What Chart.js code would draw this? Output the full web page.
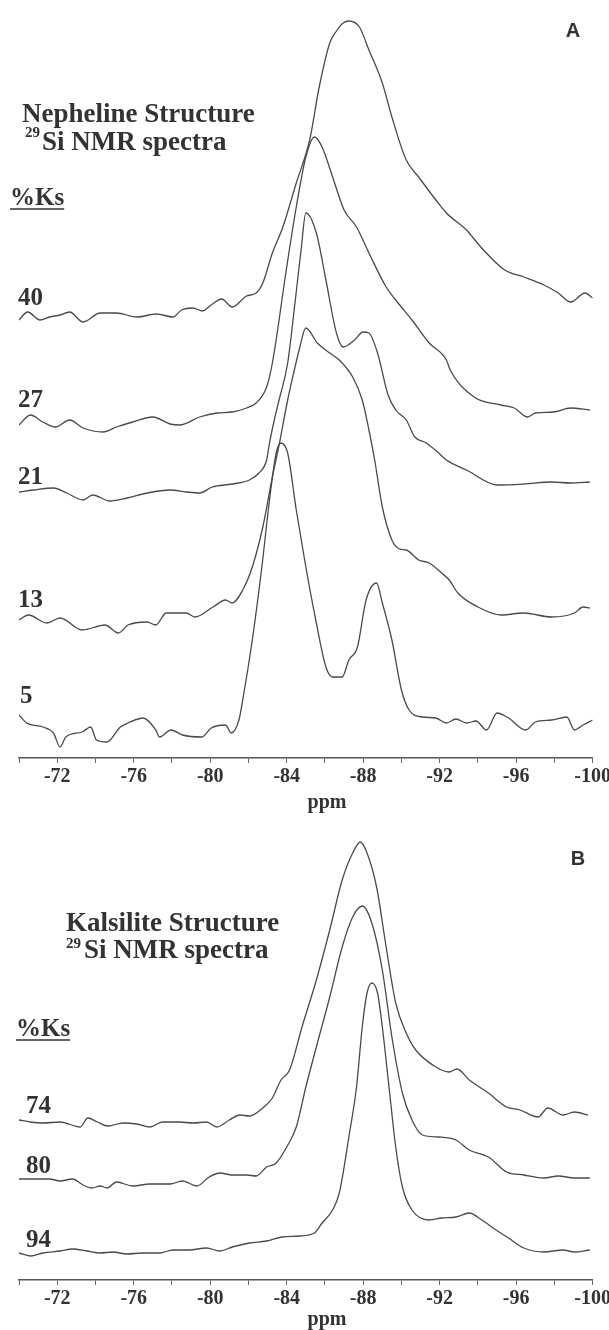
<!DOCTYPE html>
<html>
<head>
<meta charset="utf-8">
<script src="https://cdn.jsdelivr.net/npm/chart.js@4.4.1/dist/chart.umd.min.js"></script>
<style>
  html, body { margin: 0; padding: 0; background: #fff; overflow: hidden; }
  .panel { position: relative; width: 613px; }
  #panelA { height: 820px; }
  #panelB { height: 510px; }
</style>
</head>
<body>
<div class="panel" id="panelA"><canvas id="nepheline"></canvas></div>
<div class="panel" id="panelB"><canvas id="kalsilite"></canvas></div>
<script>
// chemical shift (ppm) vs stacked intensity, one array per composition (%Ks)
const ks40 = [[-70.0,438],[-70.45,446],[-71.1,438],[-71.6,441],[-72.15,443],[-72.65,446],[-73.35,436],[-74.25,445],[-75.1,445],[-76.15,441],[-77.2,444],[-78.05,441],[-78.5,448],[-79.1,450],[-79.6,447],[-80.05,453],[-80.6,459],[-81.15,451],[-81.9,462],[-82.4,465],[-82.75,475],[-83.25,505],[-83.8,531],[-84.5,575],[-85.2,618],[-85.7,671],[-86.25,715],[-86.6,727],[-86.95,735],[-87.25,737],[-87.8,731],[-88.3,708],[-89.0,675],[-89.5,641],[-90.25,598],[-90.9,581],[-91.8,558],[-92.35,545],[-93.4,528],[-94.15,511],[-95.4,488],[-96.4,481],[-97.45,473],[-98.2,465],[-98.85,456],[-99.6,465],[-100.0,460]];
const ks27 = [[-70.0,333],[-70.6,343],[-71.25,336],[-71.9,331],[-72.65,338],[-73.35,330],[-74.4,326],[-75.1,331],[-75.95,336],[-77.0,341],[-77.9,334],[-78.4,333],[-79.45,341],[-80.35,345],[-81.15,346],[-81.9,350],[-82.4,355],[-82.95,371],[-83.25,395],[-84.0,491],[-84.5,551],[-85.0,601],[-85.45,621],[-85.85,611],[-86.4,581],[-87.0,548],[-87.65,531],[-88.3,505],[-89.2,471],[-89.7,458],[-90.55,438],[-91.45,415],[-92.35,398],[-92.55,388],[-93.8,361],[-95.2,353],[-95.9,350],[-96.6,341],[-97.0,345],[-97.95,346],[-98.85,350],[-99.85,348]];
const ks21 = [[-70.0,266],[-70.75,268],[-71.8,270],[-72.5,265],[-73.35,258],[-73.85,263],[-74.75,257],[-75.65,260],[-76.7,265],[-77.9,268],[-78.75,266],[-79.45,265],[-80.1,271],[-81.15,274],[-82.05,278],[-82.55,285],[-82.95,298],[-83.1,315],[-83.35,338],[-83.6,358],[-84.05,395],[-84.45,458],[-84.75,508],[-85.0,545],[-85.55,525],[-86.05,478],[-86.6,425],[-86.95,411],[-87.55,418],[-88.0,426],[-88.3,425],[-88.75,405],[-89.3,363],[-89.7,348],[-90.25,338],[-90.7,321],[-91.3,315],[-91.95,305],[-92.35,298],[-93.4,288],[-95.0,273],[-96.4,274],[-97.85,276],[-98.85,275],[-99.85,276]];
const ks13 = [[-70.0,138],[-70.5,143],[-71.45,135],[-72.15,140],[-73.3,128],[-74.5,133],[-75.2,125],[-75.7,133],[-76.7,136],[-77.15,133],[-77.7,145],[-78.75,145],[-79.2,141],[-80.15,151],[-80.8,158],[-81.15,155],[-81.7,168],[-82.2,191],[-82.75,231],[-83.25,281],[-83.6,313],[-84.05,358],[-84.4,388],[-84.65,408],[-85.0,430],[-85.6,415],[-86.25,405],[-86.75,398],[-87.45,381],[-87.95,358],[-88.3,328],[-88.6,298],[-89.0,251],[-89.5,218],[-89.9,209],[-90.25,208],[-90.9,198],[-91.45,195],[-92.1,185],[-92.5,178],[-92.95,165],[-94.0,151],[-95.2,143],[-96.4,145],[-97.85,141],[-99.05,145],[-99.5,151],[-99.85,150]];
const ks5 = [[-70.0,43],[-70.4,35],[-71.25,31],[-71.8,25],[-72.15,11],[-72.45,21],[-73.3,26],[-73.75,31],[-74.05,18],[-74.6,16],[-75.3,31],[-75.7,35],[-76.5,40],[-77.15,28],[-77.35,21],[-77.95,28],[-78.55,23],[-79.55,21],[-80.05,30],[-80.8,33],[-81.1,25],[-81.5,38],[-81.7,58],[-82.2,118],[-82.7,191],[-83.1,258],[-83.45,305],[-83.7,315],[-84.05,305],[-84.5,248],[-85.0,191],[-85.55,135],[-86.05,91],[-86.4,81],[-86.9,81],[-87.25,98],[-87.7,111],[-88.15,158],[-88.7,175],[-89.0,155],[-89.5,118],[-90.0,68],[-90.4,48],[-91.1,41],[-91.8,40],[-92.35,35],[-92.85,39],[-93.4,35],[-93.9,37],[-94.45,28],[-95.0,45],[-95.6,40],[-96.5,28],[-97.0,36],[-97.85,38],[-98.65,41],[-99.05,28],[-99.5,33],[-100.0,38]];

const ks74 = [[-70.0,160],[-70.6,158],[-71.25,157],[-72.15,158],[-73.2,153],[-73.6,162],[-74.1,158],[-74.65,154],[-75.45,157],[-76.15,156],[-76.85,153],[-77.5,158],[-78.4,158],[-79.1,157],[-79.8,158],[-80.35,153],[-81.0,160],[-81.55,165],[-82.05,164],[-82.75,172],[-83.25,182],[-83.7,200],[-84.15,210],[-84.8,253],[-85.55,300],[-86.25,350],[-86.9,400],[-87.45,427],[-87.85,438],[-88.2,427],[-88.7,393],[-89.2,333],[-89.7,277],[-90.25,247],[-90.75,230],[-91.8,213],[-92.5,208],[-92.9,211],[-93.55,200],[-94.55,187],[-95.5,173],[-96.2,170],[-97.15,163],[-97.65,172],[-98.45,165],[-99.05,168],[-99.75,165]];
const ks80 = [[-70.0,101],[-70.75,101],[-71.6,101],[-72.15,99],[-72.8,101],[-73.35,95],[-73.8,92],[-74.25,94],[-74.6,92],[-75.1,98],[-75.95,94],[-76.85,96],[-77.9,96],[-78.55,99],[-79.3,94],[-79.95,103],[-80.5,107],[-81.15,105],[-81.9,105],[-82.4,104],[-82.95,113],[-83.45,117],[-84.0,133],[-84.5,153],[-85.0,193],[-85.55,233],[-86.25,283],[-86.9,333],[-87.45,363],[-87.95,374],[-88.45,357],[-89.0,310],[-89.5,243],[-90.05,187],[-90.55,160],[-91.1,145],[-91.95,143],[-92.85,140],[-93.55,130],[-94.55,123],[-95.5,108],[-96.4,105],[-97.45,102],[-98.2,104],[-99.05,102],[-99.85,102]];
const ks94 = [[-70.0,27],[-70.6,24],[-71.25,27],[-72.15,29],[-72.8,31],[-73.55,29],[-74.25,27],[-74.9,28],[-75.65,26],[-76.45,27],[-77.35,27],[-78.05,30],[-78.9,30],[-79.8,32],[-80.5,29],[-81.15,33],[-82.05,37],[-82.95,39],[-83.75,43],[-84.65,44],[-85.45,47],[-85.85,57],[-86.4,70],[-86.75,87],[-87.25,143],[-87.65,193],[-87.95,253],[-88.2,287],[-88.45,297],[-88.75,287],[-89.0,253],[-89.35,193],[-89.7,133],[-90.05,93],[-90.55,70],[-91.45,60],[-92.1,62],[-92.85,63],[-93.55,67],[-94.2,60],[-94.95,50],[-95.6,42],[-96.4,32],[-97.45,28],[-98.45,30],[-99.05,28],[-99.85,30]];

const INK = '#333333';
const LINE = '#4a4a4a';
const SERIF = '"Liberation Serif", "Times New Roman", serif';

// free text: titles, %Ks labels, panel letters, axis unit
const panelText = {
  id: 'panelText',
  afterDraw(chart, args, opts) {
    const ctx = chart.ctx;
    ctx.save();
    ctx.fillStyle = INK;
    ctx.strokeStyle = INK;
    ctx.textBaseline = 'alphabetic';
    for (const t of opts.items || []) {
      ctx.font = t.font;
      ctx.textAlign = t.align || 'left';
      ctx.fillText(t.text, t.x, t.y);
      if (t.underline) {
        const w = ctx.measureText(t.text).width;
        ctx.lineWidth = 1.6;
        ctx.beginPath();
        ctx.moveTo(t.x, t.y + 4);
        ctx.lineTo(t.x + w, t.y + 4);
        ctx.stroke();
      }
    }
    ctx.restore();
  }
};

function spectrum(points) {
  return {
    data: points.map(([x, y]) => ({ x, y })),
    borderColor: LINE,
    borderWidth: 1.3,
    pointRadius: 0,
    cubicInterpolationMode: 'monotone',
    fill: false
  };
}

function makePanel(canvasId, series, yMax, padTop, axisHeight, items) {
  return new Chart(document.getElementById(canvasId), {
    type: 'line',
    data: { datasets: series.map(spectrum) },
    options: {
      responsive: true,
      maintainAspectRatio: false,
      animation: false,
      devicePixelRatio: 1,
      layout: { padding: { left: 19, right: 19, top: padTop, bottom: 2 } },
      plugins: {
        legend: { display: false },
        tooltip: { enabled: false },
        panelText: { items }
      },
      scales: {
        x: {
          type: 'linear',
          min: -100,
          max: -70,
          reverse: true,
          afterFit: (scale) => { scale.height = axisHeight; },
          grid: { drawOnChartArea: false, drawTicks: true, tickLength: 5, color: '#666', lineWidth: 1 },
          border: { display: true, color: '#555', width: 1.5 },
          ticks: {
            stepSize: 2,
            autoSkip: false,
            maxRotation: 0,
            padding: 2,
            color: INK,
            font: { family: SERIF, size: 20, weight: 'bold' },
            callback: (v) => (v % 4 === 0 ? String(v) : '')
          }
        },
        y: { display: false, min: 0, max: yMax }
      }
    },
    plugins: [panelText]
  });
}

const titleFont = 'bold 27px ' + SERIF;
const supFont = 'bold 15px ' + SERIF;
const ksFont = 'bold 25px ' + SERIF;
const letterFont = 'bold 20px "Liberation Sans", Arial, sans-serif';
const unitFont = 'bold 20px ' + SERIF;

makePanel('nepheline', [ks40, ks27, ks21, ks13, ks5], 750, 8, 60, [
  { text: 'A', x: 573, y: 37, font: letterFont, align: 'center' },
  { text: 'Nepheline Structure', x: 22, y: 122, font: titleFont },
  { text: '29', x: 25, y: 137, font: supFont },
  { text: 'Si NMR spectra', x: 42, y: 150, font: titleFont },
  { text: '%Ks', x: 10, y: 205, font: ksFont, underline: true },
  { text: '40', x: 18, y: 305, font: ksFont },
  { text: '27', x: 18, y: 407, font: ksFont },
  { text: '21', x: 18, y: 484, font: ksFont },
  { text: '13', x: 18, y: 607, font: ksFont },
  { text: '5', x: 20, y: 703, font: ksFont },
  { text: 'ppm', x: 327, y: 808, font: unitFont, align: 'center' }
]);

makePanel('kalsilite', [ks74, ks80, ks94], 450, 10, 48, [
  { text: 'B', x: 578, y: 45, font: letterFont, align: 'center' },
  { text: 'Kalsilite Structure', x: 66, y: 111, font: titleFont },
  { text: '29', x: 66, y: 128, font: supFont },
  { text: 'Si NMR spectra', x: 84, y: 138, font: titleFont },
  { text: '%Ks', x: 16, y: 216, font: ksFont, underline: true },
  { text: '74', x: 26, y: 293, font: ksFont },
  { text: '80', x: 26, y: 353, font: ksFont },
  { text: '94', x: 26, y: 427, font: ksFont },
  { text: 'ppm', x: 327, y: 505, font: unitFont, align: 'center' }
]);
</script>
</body>
</html>
